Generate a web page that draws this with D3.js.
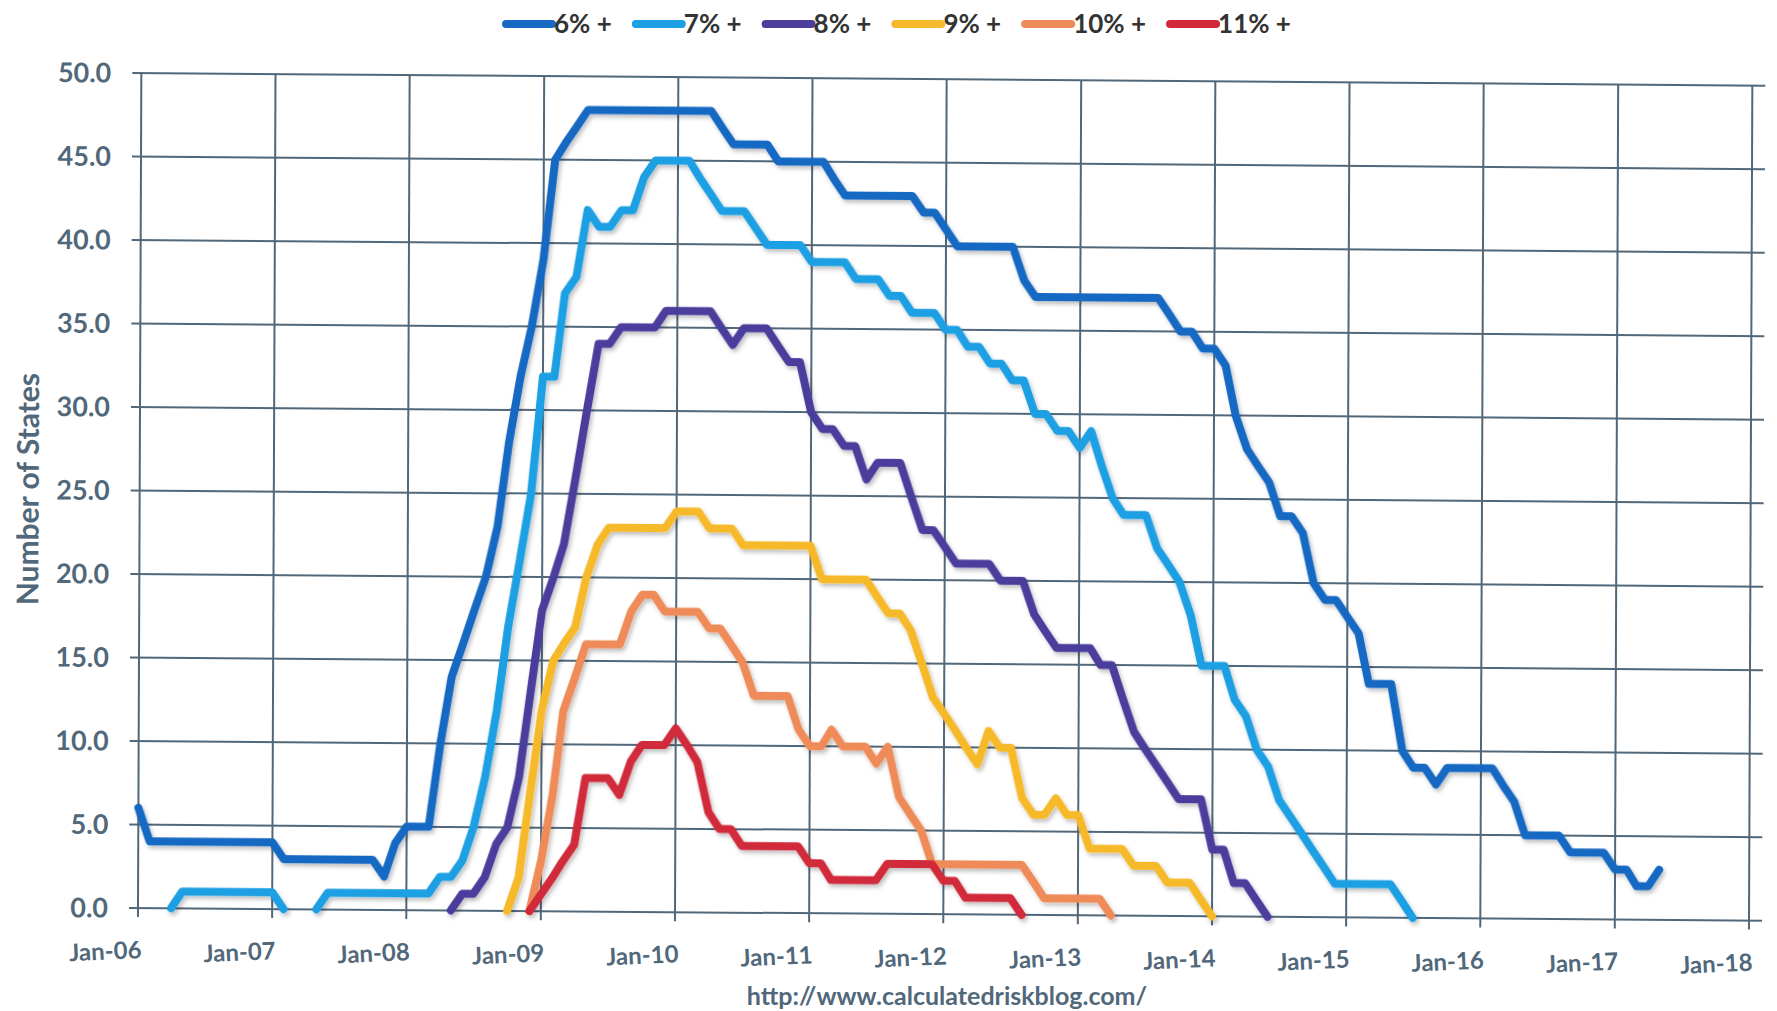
<!doctype html>
<html>
<head>
<meta charset="utf-8">
<title>Number of States</title>
<style>
body { margin: 0; background: #fff; }
text { font-family: Lato, "Open Sans", sans-serif; }
</style>
<script src="https://cdn.jsdelivr.net/npm/d3@7"></script>
</head>
<body>
<svg width="1777" height="1011"></svg>
<script>
// tick labels
var yearLabels = ["Jan-06", "Jan-07", "Jan-08", "Jan-09", "Jan-10", "Jan-11", "Jan-12",
                  "Jan-13", "Jan-14", "Jan-15", "Jan-16", "Jan-17", "Jan-18"];
var yTicks = [0, 5, 10, 15, 20, 25, 30, 35, 40, 45, 50];

var seriesNames = ["6% +", "7% +", "8% +", "9% +", "10% +", "11% +"];
var seriesColors = ["#1769c3", "#1c9fe3", "#4b3e9c", "#f6b92c", "#ef8b58", "#d02a3a"];
var seriesStart = ["2006-01", "2006-04", "2008-05", "2008-10", "2008-12", "2008-12"];

// monthly number of states, one row per year
var above6 = [
  6, 4, 4, 4, 4, 4, 4, 4, 4, 4, 4, 4,
  4, 3, 3, 3, 3, 3, 3, 3, 3, 3, 2, 4,
  5, 5, 5, 10, 14, 16, 18, 20, 23, 28, 32, 35,
  39, 45, 46, 47, 48, 48, 48, 48, 48, 48, 48, 48,
  48, 48, 48, 48, 47, 46, 46, 46, 46, 45, 45, 45,
  45, 45, 44, 43, 43, 43, 43, 43, 43, 43, 42, 42,
  41, 40, 40, 40, 40, 40, 40, 38, 37, 37, 37, 37,
  37, 37, 37, 37, 37, 37, 37, 37, 36, 35, 35, 34,
  34, 33, 30, 28, 27, 26, 24, 24, 23, 20, 19, 19,
  18, 17, 14, 14, 14, 10, 9, 9, 8, 9, 9, 9,
  9, 9, 8, 7, 5, 5, 5, 5, 4, 4, 4, 4,
  3, 3, 2, 2, 3
];
var above7 = [
  0, 1, 1, 1, 1, 1, 1, 1, 1,
  1, 0, null, null, 0, 1, 1, 1, 1, 1, 1, 1,
  1, 1, 1, 2, 2, 3, 5, 8, 12, 17, 21, 25,
  32, 32, 37, 38, 42, 41, 41, 42, 42, 44, 45, 45,
  45, 45, 44, 43, 42, 42, 42, 41, 40, 40, 40, 40,
  39, 39, 39, 39, 38, 38, 38, 37, 37, 36, 36, 36,
  35, 35, 34, 34, 33, 33, 32, 32, 30, 30, 29, 29,
  28, 29, 27, 25, 24, 24, 24, 22, 21, 20, 18, 15,
  15, 15, 13, 12, 10, 9, 7, 6, 5, 4, 3, 2,
  2, 2, 2, 2, 2, 1, 0
];
var above8 = [
  0, 1, 1, 2, 4, 5, 8, 13,
  18, 20, 22, 26, 30, 34, 34, 35, 35, 35, 35, 36,
  36, 36, 36, 36, 35, 34, 35, 35, 35, 34, 33, 33,
  30, 29, 29, 28, 28, 26, 27, 27, 27, 25, 23, 23,
  22, 21, 21, 21, 21, 20, 20, 20, 18, 17, 16, 16,
  16, 16, 15, 15, 13, 11, 10, 9, 8, 7, 7, 7,
  4, 4, 2, 2, 1, 0
];
var above9 = [
  0, 2, 7,
  12, 15, 16, 17, 20, 22, 23, 23, 23, 23, 23, 23,
  24, 24, 24, 23, 23, 23, 22, 22, 22, 22, 22, 22,
  22, 20, 20, 20, 20, 20, 19, 18, 18, 17, 15, 13,
  12, 11, 10, 9, 11, 10, 10, 7, 6, 6, 7, 6,
  6, 4, 4, 4, 4, 3, 3, 3, 2, 2, 2, 1,
  0
];
var above10 = [
  0,
  3, 7, 12, 14, 16, 16, 16, 16, 18, 19, 19, 18,
  18, 18, 18, 17, 17, 16, 15, 13, 13, 13, 13, 11,
  10, 10, 11, 10, 10, 10, 9, 10, 7, 6, 5, 3,
  3, 3, 3, 3, 3, 3, 3, 3, 2, 1, 1, 1,
  1, 1, 1, 0
];
var above11 = [
  0,
  1, 2, 3, 4, 8, 8, 8, 7, 9, 10, 10, 10,
  11, 10, 9, 6, 5, 5, 4, 4, 4, 4, 4, 4,
  3, 3, 2, 2, 2, 2, 2, 3, 3, 3, 3, 3,
  2, 2, 1, 1, 1, 1, 1, 0
];
var seriesValues = [above6, above7, above8, above9, above10, above11];

var svg = d3.select("svg");
var parseMonth = d3.timeParse("%Y-%m");
var axisColor = "#51687a";

var x = d3.scaleTime()
    .domain([parseMonth("2006-01"), parseMonth("2018-01")])
    .range([138, 1749]);
var y = d3.scaleLinear()
    .domain([0, 50])
    .range([908, 73]);

var defs = svg.append("defs");
var shadow = defs.append("filter").attr("id", "shadow")
    .attr("x", "-5%").attr("y", "-5%").attr("width", "110%").attr("height", "110%");
shadow.append("feDropShadow")
    .attr("dx", 2).attr("dy", 3).attr("stdDeviation", 2)
    .attr("flood-color", "#000").attr("flood-opacity", 0.25);

// the scanned chart is slightly tilted
var g = svg.append("g")
    .attr("transform", "matrix(1,0.0078,-0.004,1,3.63,-1.08)");

// grid
var years = yearLabels.map(function(d, i) { return parseMonth((2006 + i) + "-01"); });

g.append("g").selectAll("line")
    .data(yTicks)
    .enter().append("line")
    .attr("x1", 129).attr("x2", 1762)
    .attr("y1", function(d) { return y(d); })
    .attr("y2", function(d) { return y(d); })
    .attr("stroke", axisColor).attr("stroke-width", 2);

g.append("g").selectAll("line")
    .data(years)
    .enter().append("line")
    .attr("x1", function(d) { return x(d); })
    .attr("x2", function(d) { return x(d); })
    .attr("y1", y(50)).attr("y2", y(0) + 9)
    .attr("stroke", axisColor).attr("stroke-width", 2);

// y tick labels
g.append("g").selectAll("text")
    .data(yTicks)
    .enter().append("text")
    .attr("x", 108)
    .attr("y", function(d) { return y(d); })
    .attr("dy", "0.36em")
    .attr("text-anchor", "end")
    .attr("font-size", 27).attr("font-weight", "bold")
    .attr("fill", axisColor)
    .text(function(d) { return d3.format(".1f")(d); });

// x tick labels, ending at the tick
g.append("g").selectAll("text")
    .data(years)
    .enter().append("text")
    .attr("transform", function(d) { return "translate(" + (x(d) + 4) + ",958) rotate(-3)"; })
    .attr("text-anchor", "end")
    .attr("font-size", 24).attr("font-weight", "bold")
    .attr("fill", axisColor)
    .text(function(d, i) { return yearLabels[i]; });

// y axis title
g.append("text")
    .attr("transform", "translate(37,490) rotate(-90)")
    .attr("text-anchor", "middle")
    .attr("font-size", 30).attr("font-weight", "bold")
    .attr("fill", axisColor)
    .text("Number of States");

// lines
var line = d3.line()
    .defined(function(d) { return d.v !== null; })
    .x(function(d) { return x(d.date); })
    .y(function(d) { return y(d.v); });

var series = seriesValues.map(function(vals, i) {
    var start = parseMonth(seriesStart[i]);
    return vals.map(function(v, j) { return { date: d3.timeMonth.offset(start, j), v: v }; });
});

g.append("g").attr("filter", "url(#shadow)")
    .selectAll("path")
    .data(series)
    .enter().append("path")
    .attr("d", line)
    .attr("fill", "none")
    .attr("stroke", function(d, i) { return seriesColors[i]; })
    .attr("stroke-width", 8)
    .attr("stroke-linejoin", "round")
    .attr("stroke-linecap", "round");

// legend
var legend = svg.append("g");
var lx = 502;
seriesNames.forEach(function(name, i) {
    legend.append("line")
        .attr("x1", lx + 4).attr("x2", lx + 50)
        .attr("y1", 24).attr("y2", 24)
        .attr("stroke", seriesColors[i]).attr("stroke-width", 8)
        .attr("stroke-linecap", "round");
    var t = legend.append("text")
        .attr("x", lx + 52).attr("y", 33)
        .attr("font-size", 26).attr("font-weight", "bold")
        .attr("fill", "#333")
        .text(name);
    lx += 52 + t.node().getComputedTextLength() + 20;
});

// source
svg.append("text")
    .attr("x", 947).attr("y", 1005)
    .attr("text-anchor", "middle")
    .attr("font-size", 25).attr("font-weight", "bold")
    .attr("fill", axisColor)
    .text("http://www.calculatedriskblog.com/");
</script>
</body>
</html>
